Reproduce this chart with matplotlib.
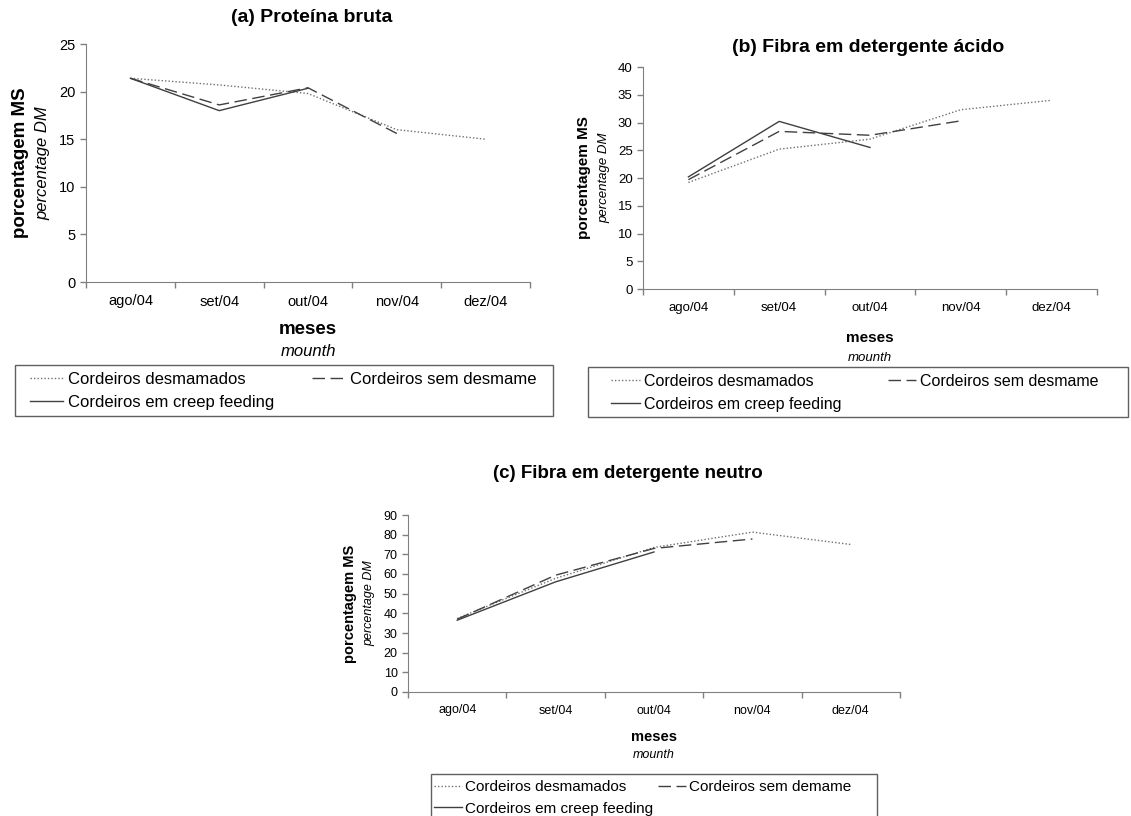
import numpy as np
import matplotlib.pyplot as plt
from matplotlib.lines import Line2D
from matplotlib.patches import Rectangle

plt.rcParams['font.family'] = ['Liberation Sans', 'DejaVu Sans']

# dados
meses = ['ago/04', 'set/04', 'out/04', 'nov/04', 'dez/04']

pb_desmamados = [21.4, 20.7, 19.8, 16.0, 15.0]
pb_sem_desmame = [21.4, 18.6, 20.4, 15.6, np.nan]
pb_creep = [21.4, 18.0, 20.35, np.nan, np.nan]

fda_desmamados = [19.2, 25.2, 27.0, 32.3, 34.0]
fda_sem_desmame = [19.7, 28.4, 27.7, 30.3, np.nan]
fda_creep = [20.2, 30.2, 25.5, np.nan, np.nan]

fdn_desmamados = [37.4, 57.8, 73.5, 81.3, 75.0]
fdn_sem_desmame = [37.0, 59.4, 73.0, 77.8, np.nan]
fdn_creep = [36.5, 56.0, 71.2, np.nan, np.nan]

W, H = 1131, 816
fig = plt.figure(figsize=(W / 100, H / 100), dpi=100)

estilo_desm = dict(color='#707070', lw=1.0, linestyle=(0, (1, 1.5)))
estilo_sem = dict(color='#404040', lw=1.0, linestyle=(0, (9, 4)))
estilo_creep = dict(color='#404040', lw=1.0, linestyle='-')


def box(l, t, r, b):
    return [l / W, 1 - b / H, (r - l) / W, (b - t) / H]


def painel(rect, desm, sem, creep, ymax, ystep, titulo, tit_xy, fs, ylab_x, xlab_y,
           frame, leg_xy, leg_label_sem, fs_leg, hlen, colsp, fs_tit, fs_lab):
    ax = fig.add_axes(box(*rect))
    x = np.arange(len(meses)) + 0.5
    ax.plot(x, desm, **estilo_desm)
    ax.plot(x, sem, **estilo_sem)
    ax.plot(x, creep, **estilo_creep)
    ax.set_xlim(0, 5)
    ax.set_ylim(0, ymax)
    ax.set_yticks(np.arange(0, ymax + 0.1, ystep))
    ax.set_xticks(np.arange(0, 6))
    ax.set_xticklabels([])
    ax.set_xticks(x, minor=True)
    ax.set_xticklabels(meses, minor=True, fontsize=fs)
    ax.tick_params(axis='x', which='minor', length=0, pad=9)
    ax.tick_params(axis='both', which='major', length=4, color='#808080',
                   labelsize=fs, width=1)
    for s in ['top', 'right']:
        ax.spines[s].set_visible(False)
    for s in ['left', 'bottom']:
        ax.spines[s].set_color('#808080')

    fig.text(tit_xy[0] / W, 1 - tit_xy[1] / H, titulo, ha='center', va='center',
             fontsize=fs_tit, fontweight='bold')
    cy = (rect[1] + rect[3]) / 2
    fig.text(ylab_x[0] / W, 1 - cy / H, 'porcentagem MS', rotation=90, ha='center',
             va='center', fontsize=fs_lab, fontweight='bold')
    fig.text(ylab_x[1] / W, 1 - cy / H, 'percentage DM', rotation=90, ha='center',
             va='center', fontsize=fs_lab - 1.5, style='italic')
    cx = (rect[0] + rect[2]) / 2
    fig.text(cx / W, 1 - xlab_y[0] / H, 'meses', ha='center', va='center',
             fontsize=fs_lab, fontweight='bold')
    fig.text(cx / W, 1 - xlab_y[1] / H, 'mounth', ha='center', va='center',
             fontsize=fs_lab - 1.5, style='italic')

    # moldura da legenda
    l, t, r, b = frame
    fig.patches.append(Rectangle((l / W, 1 - b / H), (r - l) / W, (b - t) / H,
                                 transform=fig.transFigure, fill=False,
                                 edgecolor='#606060', lw=1.0))
    handles = [Line2D([], [], **estilo_desm), Line2D([], [], **estilo_creep),
               Line2D([], [], **estilo_sem)]
    labels = ['Cordeiros desmamados', 'Cordeiros em creep feeding', leg_label_sem]
    fig.legend(handles, labels, ncol=2, loc='upper left',
               bbox_to_anchor=(leg_xy[0] / W, 1 - leg_xy[1] / H),
               bbox_transform=fig.transFigure, borderaxespad=0, borderpad=0,
               frameon=False, fontsize=fs_leg, handlelength=hlen,
               handletextpad=0.25, labelspacing=0.5, columnspacing=colsp)
    return ax


painel((86, 44, 530, 282), pb_desmamados, pb_sem_desmame, pb_creep, 25, 5,
       '(a) Proteína bruta', (312, 18), 10.5, (21, 43), (330, 351),
       (15, 365, 553, 416), (30, 372), 'Cordeiros sem desmame', 12, 2.0, 2.3,
       14, 13.5)

painel((643, 67, 1097, 289), fda_desmamados, fda_sem_desmame, fda_creep, 40, 5,
       '(b) Fibra em detergente ácido', (868, 47), 9.5, (584, 604), (338, 358),
       (588, 367, 1128, 417), (611, 374), 'Cordeiros sem desmame', 11.5, 1.8, 2.9,
       14, 11)

painel((408, 515, 900, 692), fdn_desmamados, fdn_sem_desmame, fdn_creep, 90, 10,
       '(c) Fibra em detergente neutro', (628, 473), 9, (350, 369), (737, 755),
       (431, 774, 877, 830), (434, 780), 'Cordeiros sem demame', 11, 1.8, 0.3,
       13.5, 10.5)

fig.savefig('out.png', dpi=100)
